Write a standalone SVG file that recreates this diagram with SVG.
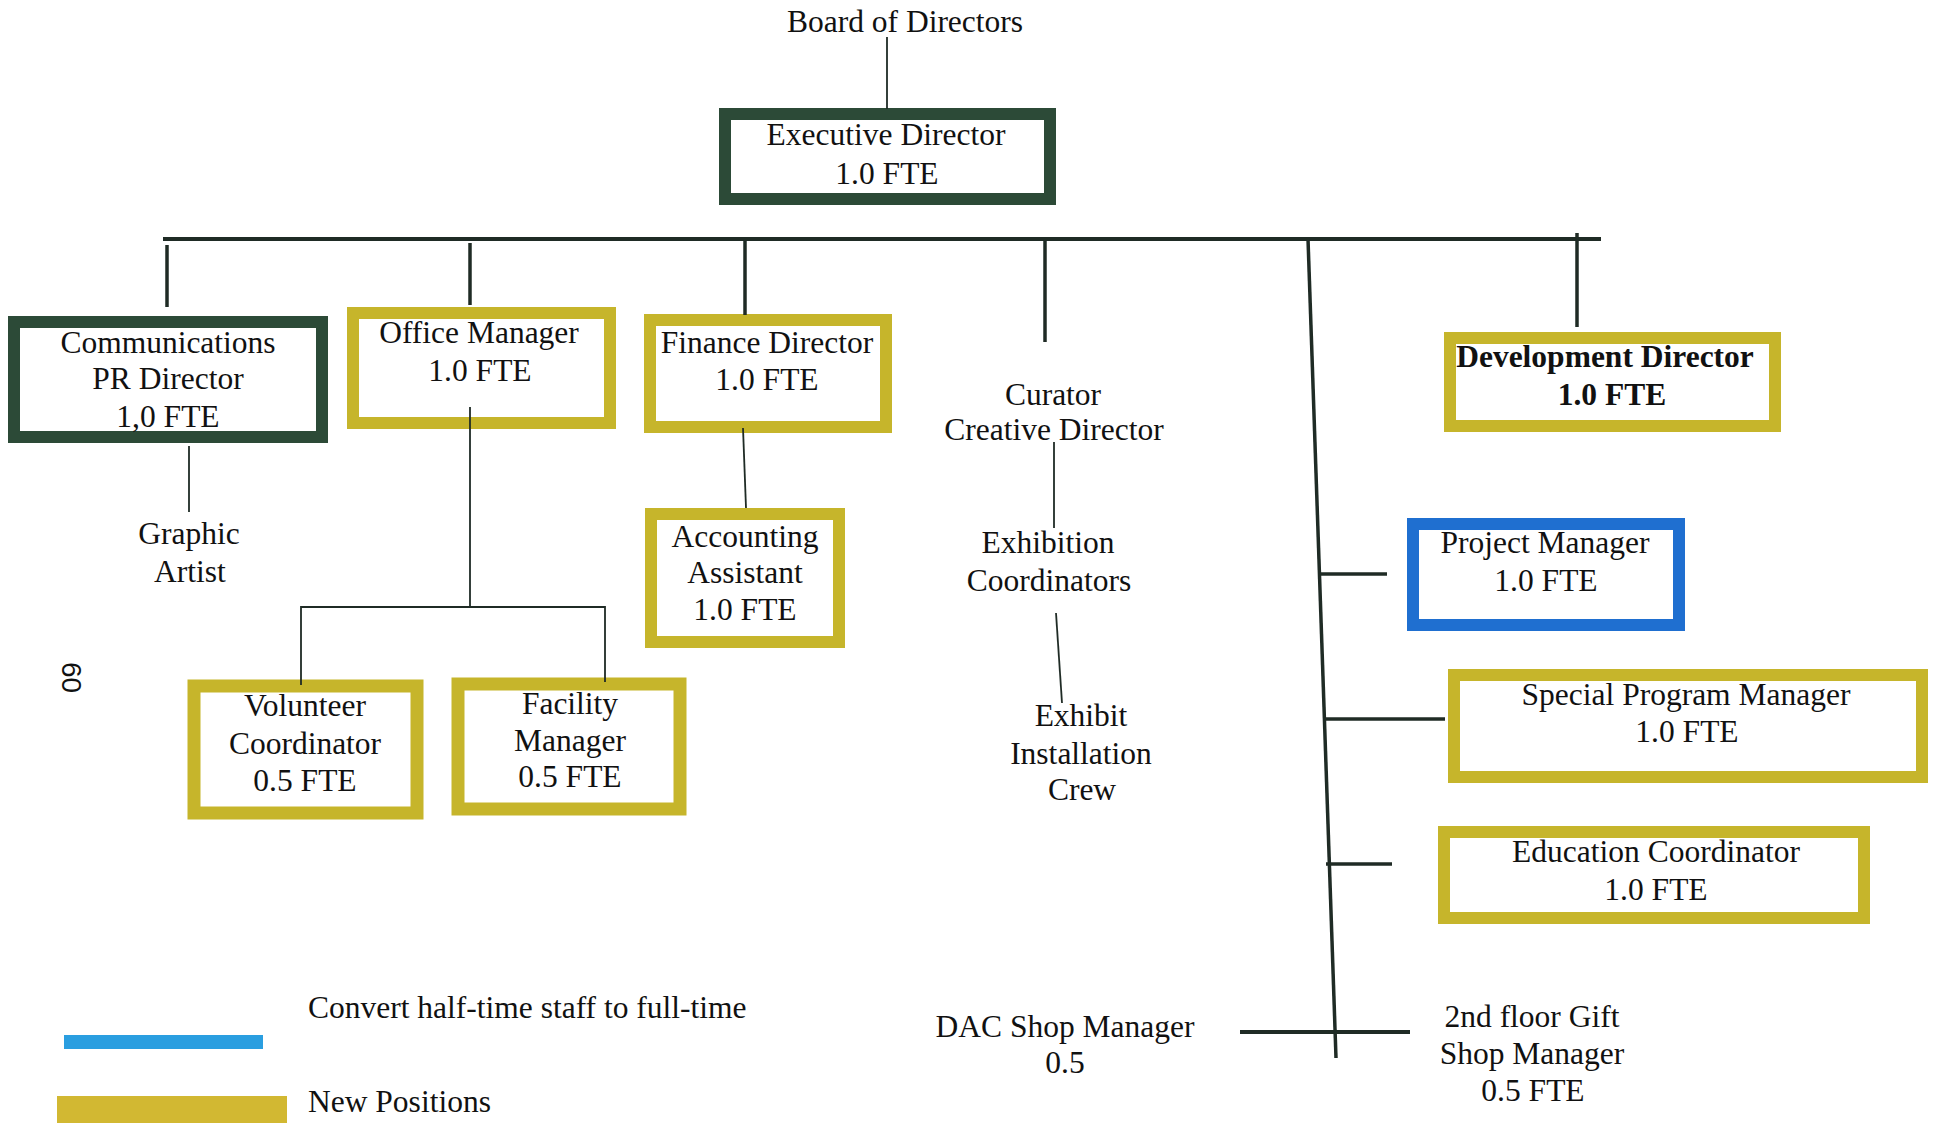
<svg xmlns="http://www.w3.org/2000/svg" width="1935" height="1123" viewBox="0 0 1935 1123">
<style>
text{font-family:"Liberation Serif","Times New Roman",serif;font-size:31.5px;fill:#111;text-anchor:middle}
.box{fill:#fff;stroke-width:12}
.g{stroke:#2c4a37}
.y{stroke:#c6b52b}
.b{stroke:#1f6fd0}
.bold{font-weight:bold}
.c{stroke:#1f2b25;fill:none}
.thick{stroke-width:4}
.mid{stroke-width:3.5}
.thin{stroke-width:1.8}
</style>
<rect width="1935" height="1123" fill="#fff"/>
<g id="board"><text x="905" y="32">Board of Directors</text></g>
<g id="executive-director">
<rect class="box g" x="725" y="114" width="325" height="85"/>
<text x="886" y="145">Executive Director</text>
<text x="887" y="184">1.0 FTE</text>
</g>
<g id="communications">
<rect class="box g" x="14" y="322" width="308" height="115"/>
<text x="168" y="353">Communications</text>
<text x="168" y="389">PR Director</text>
<text x="168" y="427">1,0 FTE</text>
</g>
<g id="office-manager">
<rect class="box y" x="353" y="313" width="257" height="110"/>
<text x="479" y="343">Office Manager</text>
<text x="480" y="381">1.0 FTE</text>
</g>
<g id="finance-director">
<rect class="box y" x="650" y="320" width="236" height="107"/>
<text x="767" y="353">Finance Director</text>
<text x="767" y="390">1.0 FTE</text>
</g>
<g id="curator">
<text x="1053" y="405">Curator</text>
<text x="1054" y="440">Creative Director</text>
</g>
<g id="development-director">
<rect class="box y" x="1450" y="338" width="325" height="88"/>
<text class="bold" x="1605" y="367">Development Director</text>
<text class="bold" x="1612" y="405">1.0 FTE</text>
</g>
<g id="graphic-artist">
<text x="189" y="544">Graphic</text>
<text x="190" y="582">Artist</text>
</g>
<g id="accounting-assistant">
<rect class="box y" x="651" y="514" width="188" height="128"/>
<text x="745" y="547">Accounting</text>
<text x="745" y="583">Assistant</text>
<text x="745" y="620">1.0 FTE</text>
</g>
<g id="volunteer-coordinator">
<rect class="box y" x="194" y="686" width="223" height="127" style="stroke-width:13"/>
<text x="305" y="716">Volunteer</text>
<text x="305" y="754">Coordinator</text>
<text x="305" y="791">0.5 FTE</text>
</g>
<g id="facility-manager">
<rect class="box y" x="458" y="684" width="222" height="125" style="stroke-width:13"/>
<text x="570" y="714">Facility</text>
<text x="570" y="751">Manager</text>
<text x="570" y="787">0.5 FTE</text>
</g>
<g id="exhibition-coordinators">
<text x="1048" y="553">Exhibition</text>
<text x="1049" y="591">Coordinators</text>
</g>
<g id="exhibit-installation-crew">
<text x="1081" y="726">Exhibit</text>
<text x="1081" y="764">Installation</text>
<text x="1082" y="800">Crew</text>
</g>
<g id="project-manager">
<rect class="box b" x="1413" y="524" width="266" height="101"/>
<text x="1545" y="553">Project Manager</text>
<text x="1546" y="591">1.0 FTE</text>
</g>
<g id="special-program-manager">
<rect class="box y" x="1454" y="675" width="468" height="102"/>
<text x="1686" y="705">Special Program Manager</text>
<text x="1687" y="742">1.0 FTE</text>
</g>
<g id="education-coordinator">
<rect class="box y" x="1444" y="832" width="420" height="86"/>
<text x="1656" y="862">Education Coordinator</text>
<text x="1656" y="900">1.0 FTE</text>
</g>
<g id="dac-shop-manager">
<text x="1065" y="1037">DAC Shop Manager</text>
<text x="1065" y="1073">0.5</text>
</g>
<g id="gift-shop-manager">
<text x="1532" y="1027">2nd floor Gift</text>
<text x="1532" y="1064">Shop Manager</text>
<text x="1533" y="1101">0.5 FTE</text>
</g>
<g id="page-number">
<text transform="translate(62,662) rotate(90)" x="0" y="0" style="font-family:'Liberation Sans',Arial,sans-serif;font-size:28px;text-anchor:start">60</text>
</g>
<g id="legend">
<rect x="64" y="1035" width="199" height="14" fill="#2a9ee0"/>
<text x="308" y="1018" style="text-anchor:start">Convert half-time staff to full-time</text>
<rect x="57" y="1096" width="230" height="27" fill="#d2b832"/>
<text x="308" y="1112" style="text-anchor:start">New Positions</text>
</g>
<g id="connectors">
<line class="c thin" x1="887" y1="37" x2="887" y2="109"/>
<line class="c thick" x1="163" y1="239" x2="1601" y2="239"/>
<line class="c mid" x1="167" y1="245" x2="167" y2="307"/>
<line class="c mid" x1="470" y1="243" x2="470" y2="305"/>
<line class="c mid" x1="745" y1="240" x2="745" y2="315"/>
<line class="c mid" x1="1045" y1="240" x2="1045" y2="342"/>
<line class="c mid" x1="1577" y1="233" x2="1577" y2="327"/>
<line class="c mid" x1="1308" y1="239" x2="1336" y2="1058"/>
<line class="c thin" x1="189" y1="446" x2="189" y2="512"/>
<line class="c thin" x1="470" y1="407" x2="470" y2="607"/>
<polyline class="c thin" points="301,685 301,607 605,607 605,682"/>
<line class="c thin" x1="743" y1="428" x2="746" y2="508"/>
<line class="c thin" x1="1054" y1="442" x2="1054" y2="528"/>
<line class="c thin" x1="1056" y1="613" x2="1062" y2="703"/>
<line class="c mid" x1="1320" y1="574" x2="1387" y2="574"/>
<line class="c mid" x1="1326" y1="719" x2="1445" y2="719"/>
<line class="c mid" x1="1326" y1="864" x2="1392" y2="864"/>
<line class="c thick" x1="1240" y1="1032" x2="1410" y2="1032"/>
</g>
</svg>
